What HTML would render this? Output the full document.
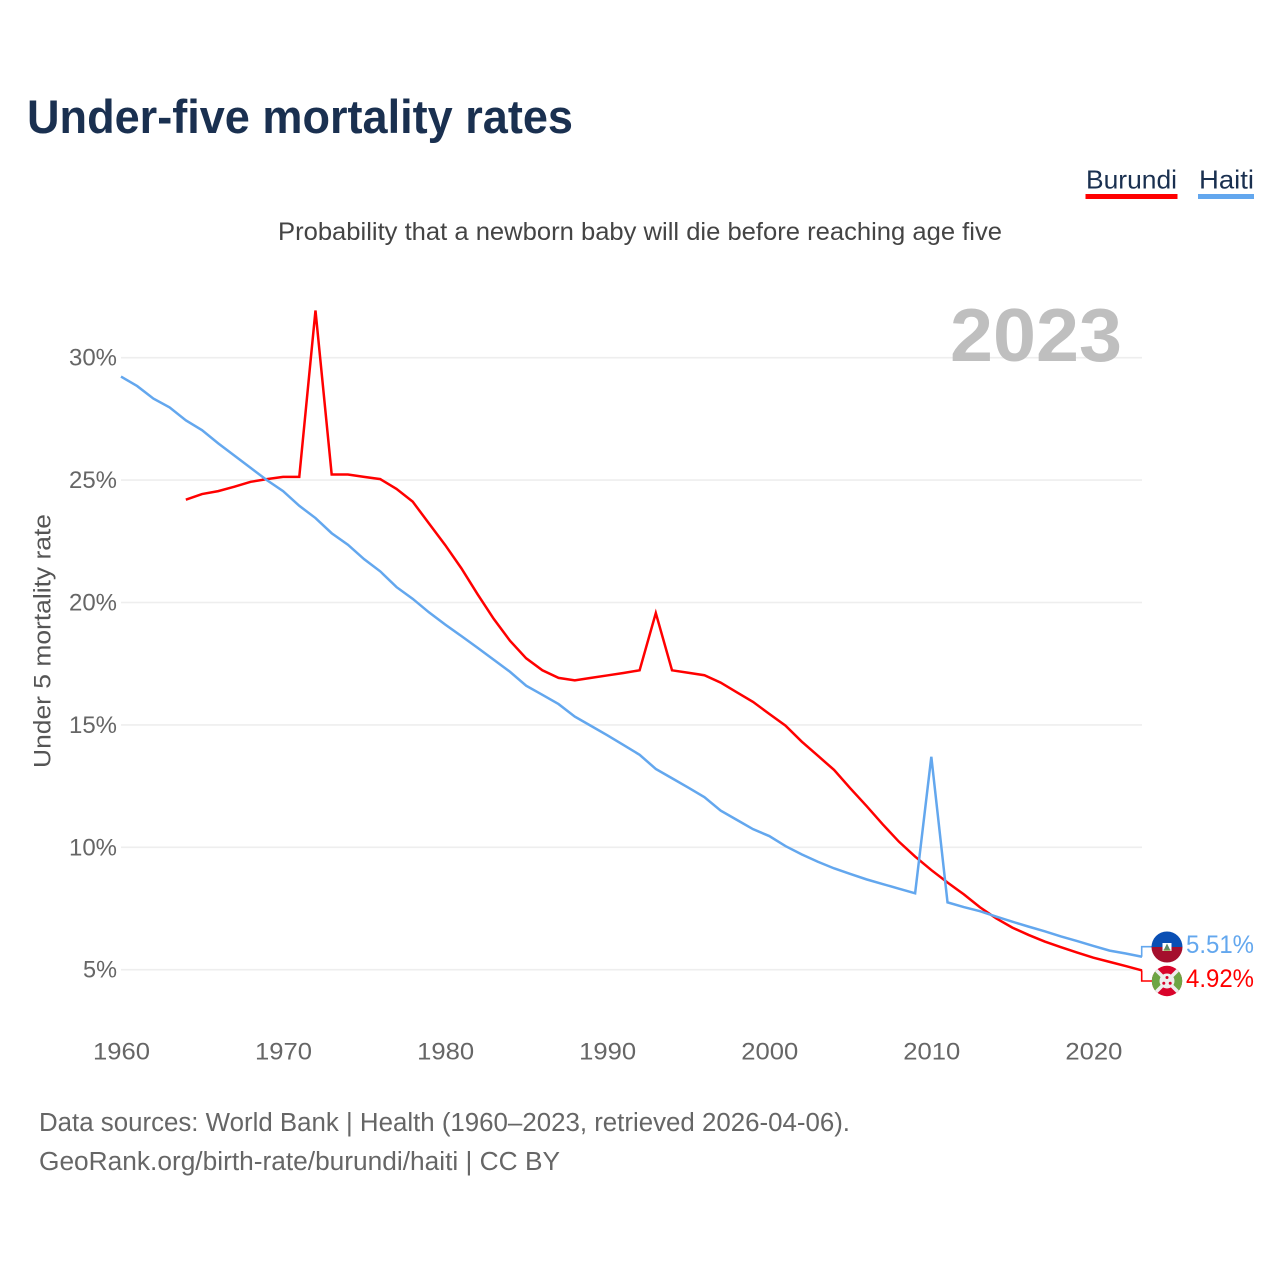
<!DOCTYPE html>
<html lang="en">
<head>
<meta charset="utf-8">
<title>Under-five mortality rates</title>
<style>
html,body{margin:0;padding:0;background:#fff}
svg{display:block}
text{font-family:"Liberation Sans",sans-serif}
</style>
</head>
<body>
<svg id="chart" xmlns="http://www.w3.org/2000/svg" width="1280" height="1280" viewBox="0 0 1280 1280">
  <rect x="0" y="0" width="1280" height="1280" fill="#fff"/>
  <text x="27" y="133" font-size="47" font-weight="700" fill="#1a3050" textLength="546" lengthAdjust="spacingAndGlyphs">Under-five mortality rates</text>
  <g>
    <text x="1086" y="188.5" font-size="26" fill="#1a3050" textLength="91" lengthAdjust="spacingAndGlyphs">Burundi</text>
    <rect x="1085.5" y="194" width="92" height="5" fill="#ff0000"/>
  </g>
  <g>
    <text x="1199" y="188.5" font-size="26" fill="#1a3050" textLength="55" lengthAdjust="spacingAndGlyphs">Haiti</text>
    <rect x="1198" y="194" width="56" height="5" fill="#63a7ee"/>
  </g>
  <text x="278" y="240" font-size="25" fill="#444" textLength="724" lengthAdjust="spacingAndGlyphs">Probability that a newborn baby will die before reaching age five</text>
  <g id="grid"></g>
  <text x="950" y="361" font-size="75" font-weight="700" fill="#bfbfbf" textLength="172" lengthAdjust="spacingAndGlyphs">2023</text>
  <g id="ylabels"></g>
  <g id="xlabels"></g>
  <text transform="translate(50.5,641) rotate(-90)" text-anchor="middle" font-size="24.5" fill="#555" textLength="254" lengthAdjust="spacingAndGlyphs">Under 5 mortality rate</text>
  <g id="series"></g>

  <g>
    <clipPath id="clip-haiti"><circle cx="1167" cy="947" r="15.5"/></clipPath>
    <g clip-path="url(#clip-haiti)">
      <rect x="1151" y="931" width="32" height="16" fill="#0a4fb4"/>
      <rect x="1151" y="947" width="32" height="16" fill="#a50f2d"/>
      <rect x="1162.5" y="943" width="9" height="8" fill="#fff"/>
      <polygon points="1167,943.5 1170,949.5 1164,949.5" fill="#5d8a6a"/>
      <rect x="1163.5" y="949.5" width="7" height="1.2" fill="#7a9a3a"/>
    </g>
  </g>
  <g>
    <clipPath id="clip-burundi"><circle cx="1167" cy="981" r="15.2"/></clipPath>
    <g clip-path="url(#clip-burundi)">
      <rect x="1151" y="965" width="32" height="32" fill="#d9042b"/>
      <polygon points="1151,965 1167,981 1151,997" fill="#6da544"/>
      <polygon points="1183,965 1167,981 1183,997" fill="#6da544"/>
      <line x1="1151" y1="965" x2="1183" y2="997" stroke="#eee" stroke-width="3.6"/>
      <line x1="1183" y1="965" x2="1151" y2="997" stroke="#eee" stroke-width="3.6"/>
      <circle cx="1167" cy="981" r="7.5" fill="#eee"/>
      <circle cx="1167" cy="977.5" r="1.5" fill="#d9042b"/>
      <circle cx="1163.8" cy="983.2" r="1.5" fill="#d9042b"/>
      <circle cx="1170.2" cy="983.2" r="1.5" fill="#d9042b"/>
    </g>
  </g>
  <text id="value-haiti" x="1186" y="953" font-size="25" fill="#63a7ee" textLength="68" lengthAdjust="spacingAndGlyphs"></text>
  <text id="value-burundi" x="1186" y="987" font-size="25" fill="#ff0000" textLength="68" lengthAdjust="spacingAndGlyphs"></text>

  <text x="39" y="1131" font-size="25.5" fill="#666" textLength="811" lengthAdjust="spacingAndGlyphs">Data sources: World Bank | Health (1960–2023, retrieved 2026-04-06).</text>
  <text x="39" y="1170" font-size="25.5" fill="#666" textLength="521" lengthAdjust="spacingAndGlyphs">GeoRank.org/birth-rate/burundi/haiti | CC BY</text>
</svg>
<script>
const yTickValues = [5, 10, 15, 20, 25, 30];
const xTickYears = [1960, 1970, 1980, 1990, 2000, 2010, 2020];
const haitiStartYear = 1960;
const haitiValues = [
  29.23, 28.84, 28.33, 27.97, 27.44, 27.04, 26.5, 26.0, 25.5, 25.0,
  24.55, 23.95, 23.45, 22.83, 22.36, 21.77, 21.27, 20.63, 20.15, 19.6,
  19.1, 18.63, 18.15, 17.66, 17.17, 16.6, 16.23, 15.85, 15.34, 14.96,
  14.58, 14.18, 13.78, 13.2, 12.82, 12.44, 12.05, 11.5, 11.12, 10.74,
  10.46, 10.05, 9.71, 9.41, 9.14, 8.91, 8.69, 8.5, 8.31, 8.12,
  13.7, 7.75, 7.56, 7.39, 7.17, 6.96, 6.76, 6.57, 6.36, 6.17,
  5.97, 5.78, 5.66, 5.53
];
const burundiStartYear = 1964;
const burundiValues = [
  24.2, 24.43, 24.55, 24.73, 24.93, 25.04,
  25.13, 25.13, 31.93, 25.23, 25.23, 25.13, 25.04, 24.64, 24.12, 23.23,
  22.35, 21.4, 20.34, 19.33, 18.44, 17.72, 17.23, 16.92, 16.82, 16.92,
  17.02, 17.12, 17.23, 19.57, 17.23, 17.13, 17.03, 16.73, 16.33, 15.94,
  15.45, 14.97, 14.32, 13.74, 13.16, 12.41, 11.69, 10.94, 10.23, 9.62,
  9.07, 8.56, 8.08, 7.55, 7.1, 6.72, 6.42, 6.15, 5.92, 5.7,
  5.49, 5.32, 5.15, 4.97
];
const printedHaiti = '5.51%';
const printedBurundi = '4.92%';

const SVG_NS = 'http://www.w3.org/2000/svg';
function xScale(year) { return 121 + (year - 1960) * (1021 / 63); }
function yScale(value) { return 969.7 - (value - 5) * 24.48; }
function make(tag, attrs, parent) {
  const el = document.createElementNS(SVG_NS, tag);
  for (const k in attrs) el.setAttribute(k, attrs[k]);
  parent.appendChild(el);
  return el;
}
const gridG = document.getElementById('grid');
const yLabelG = document.getElementById('ylabels');
const xLabelG = document.getElementById('xlabels');
const seriesG = document.getElementById('series');

yTickValues.forEach(function (v) {
  const line = make('line', {x1: 121, x2: 1142, y1: yScale(v), y2: yScale(v), stroke: '#eeeeee', 'stroke-width': 1.6}, gridG);
  
  
  const label = v + '%';
  const t = make('text', {x: 117, y: yScale(v) + 8, 'text-anchor': 'end', 'font-size': 24.5, fill: '#666', textLength: label.length === 2 ? 34 : 48, lengthAdjust: 'spacingAndGlyphs'}, yLabelG);
  t.textContent = label;
  
  
});
xTickYears.forEach(function (yr) {
  const t = make('text', {x: xScale(yr) + 0.5, y: 1059.5, 'text-anchor': 'middle', 'font-size': 24.5, fill: '#666', textLength: 57, lengthAdjust: 'spacingAndGlyphs'}, xLabelG);
  t.textContent = String(yr);
  
  
});
function linePoints(startYear, values) {
  return values.map(function (v, i) {
    return xScale(startYear + i).toFixed(2) + ',' + yScale(v).toFixed(2);
  }).join(' ');
}
const burundiLine = make('polyline', {points: linePoints(burundiStartYear, burundiValues), fill: 'none', stroke: '#ff0000', 'stroke-width': 2.5, 'stroke-linejoin': 'miter', 'stroke-miterlimit': 4}, seriesG);


const haitiLine = make('polyline', {points: linePoints(haitiStartYear, haitiValues), fill: 'none', stroke: '#63a7ee', 'stroke-width': 2.5, 'stroke-linejoin': 'miter', 'stroke-miterlimit': 4}, seriesG);



const lastHaiti = haitiValues[haitiValues.length - 1];
const lastBurundi = burundiValues[burundiValues.length - 1];
const endX = xScale(2023) - 0.3;
const haitiLeader = make('polyline', {points: endX + ',' + yScale(lastHaiti) + ' ' + endX + ',946.7 1152,946.7', fill: 'none', stroke: '#63a7ee', 'stroke-width': 1.6}, seriesG);


const burundiLeader = make('polyline', {points: endX + ',' + yScale(lastBurundi) + ' ' + endX + ',981 1152,981', fill: 'none', stroke: '#ff0000', 'stroke-width': 1.6}, seriesG);


document.getElementById('value-haiti').textContent = printedHaiti;
document.getElementById('value-burundi').textContent = printedBurundi;
</script>
</body>
</html>
